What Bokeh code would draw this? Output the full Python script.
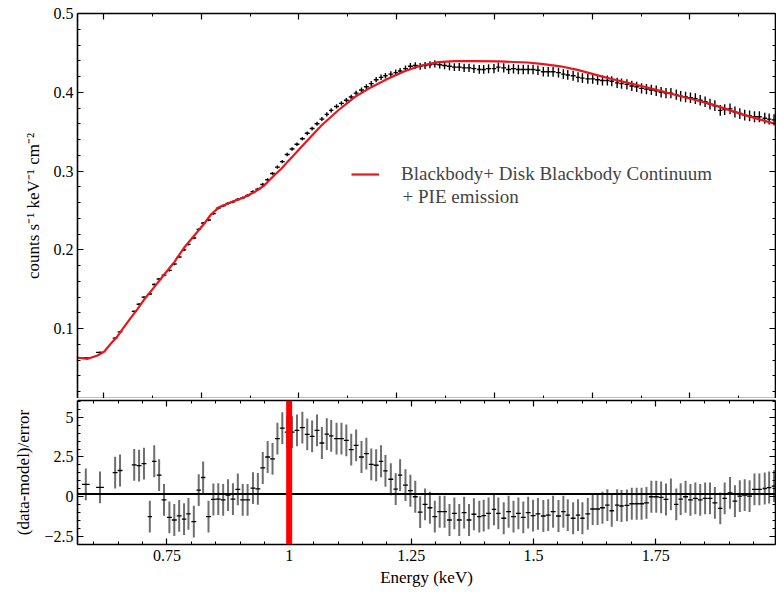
import numpy as np
from bokeh.plotting import figure
from bokeh.models import (Range1d, LinearAxis, FixedTicker, Span, Legend, LegendItem,
                          Label, CustomJSTickFormatter, ColumnDataSource)
from bokeh.layouts import column
from bokeh.embed import file_html
from bokeh.resources import INLINE

# ---------------- data ----------------
energy = [0.584, 0.613, 0.644, 0.654, 0.683, 0.693, 0.703, 0.715, 0.724, 0.734,
          0.744, 0.755, 0.765, 0.775, 0.785, 0.794, 0.805, 0.815, 0.824, 0.835,
          0.845, 0.855, 0.865, 0.875, 0.885, 0.895, 0.905, 0.915, 0.926, 0.936,
          0.946, 0.956, 0.966, 0.976, 0.986, 0.996, 1.006, 1.016, 1.027, 1.037,
          1.047, 1.057, 1.067, 1.077, 1.086, 1.097, 1.107, 1.117, 1.127, 1.137,
          1.148, 1.158, 1.168, 1.178, 1.188, 1.197, 1.208, 1.218, 1.227, 1.238,
          1.248, 1.258, 1.268, 1.278, 1.288, 1.298, 1.308, 1.318, 1.328, 1.338,
          1.348, 1.358, 1.368, 1.378, 1.389, 1.398, 1.408, 1.419, 1.428, 1.439,
          1.449, 1.459, 1.469, 1.479, 1.489, 1.499, 1.509, 1.520, 1.530, 1.540,
          1.551, 1.561, 1.570, 1.581, 1.591, 1.600, 1.611, 1.621, 1.631, 1.641,
          1.651, 1.660, 1.671, 1.680, 1.691, 1.701, 1.711, 1.721, 1.731, 1.741,
          1.751, 1.761, 1.771, 1.781, 1.792, 1.801, 1.811, 1.821, 1.831, 1.841,
          1.851, 1.861, 1.871, 1.882, 1.891, 1.902, 1.912, 1.922, 1.932, 1.942,
          1.952, 1.962, 1.973, 1.982, 1.992]

flux = [0.063, 0.070, 0.088, 0.096, 0.122, 0.131, 0.140, 0.144, 0.156, 0.163,
        0.168, 0.174, 0.182, 0.191, 0.200, 0.207, 0.215, 0.226, 0.234, 0.238,
        0.246, 0.253, 0.256, 0.259, 0.261, 0.264, 0.266, 0.269, 0.274, 0.277,
        0.283, 0.289, 0.297, 0.305, 0.312, 0.321, 0.328, 0.334, 0.341, 0.348,
        0.354, 0.360, 0.366, 0.372, 0.377, 0.382, 0.386, 0.390, 0.394, 0.399,
        0.403, 0.407, 0.411, 0.416, 0.419, 0.421, 0.423, 0.425, 0.427, 0.430,
        0.433, 0.434, 0.433, 0.434, 0.435, 0.436, 0.435, 0.434, 0.433, 0.432,
        0.432, 0.431, 0.431, 0.430, 0.429, 0.429, 0.430, 0.430, 0.432, 0.431,
        0.429, 0.430, 0.429, 0.429, 0.429, 0.429, 0.428, 0.426, 0.426, 0.426,
        0.425, 0.423, 0.422, 0.421, 0.419, 0.418, 0.417, 0.417, 0.416, 0.415,
        0.415, 0.414, 0.412, 0.411, 0.410, 0.408, 0.407, 0.405, 0.404, 0.403,
        0.402, 0.400, 0.399, 0.399, 0.397, 0.395, 0.394, 0.393, 0.392, 0.390,
        0.388, 0.385, 0.383, 0.377, 0.378, 0.379, 0.375, 0.373, 0.371, 0.370,
        0.369, 0.369, 0.367, 0.366, 0.365]

flux_err = [0.0010, 0.0010, 0.0011, 0.0011, 0.0012, 0.0012, 0.0012, 0.0012, 0.0013, 0.0013,
            0.0013, 0.0013, 0.0014, 0.0014, 0.0014, 0.0014, 0.0015, 0.0015, 0.0015, 0.0015,
            0.0016, 0.0016, 0.0016, 0.0017, 0.0017, 0.0017, 0.0018, 0.0018, 0.0018, 0.0019,
            0.0019, 0.0020, 0.0020, 0.0021, 0.0021, 0.0022, 0.0022, 0.0023, 0.0023, 0.0024,
            0.0024, 0.0025, 0.0025, 0.0026, 0.0026, 0.0027, 0.0027, 0.0028, 0.0029, 0.0030,
            0.0031, 0.0032, 0.0033, 0.0034, 0.0035, 0.0036, 0.0037, 0.0038, 0.0039, 0.0040,
            0.0041, 0.0042, 0.0043, 0.0044, 0.0045, 0.0046, 0.0047, 0.0048, 0.0049, 0.0050,
            0.0051, 0.0052, 0.0053, 0.0054, 0.0055, 0.0056, 0.0057, 0.0058, 0.0058, 0.0059,
            0.0059, 0.0060, 0.0060, 0.0060, 0.0061, 0.0061, 0.0061, 0.0061, 0.0062, 0.0062,
            0.0062, 0.0062, 0.0062, 0.0063, 0.0063, 0.0063, 0.0063, 0.0063, 0.0064, 0.0064,
            0.0064, 0.0064, 0.0064, 0.0064, 0.0065, 0.0065, 0.0065, 0.0065, 0.0065, 0.0065,
            0.0066, 0.0066, 0.0066, 0.0066, 0.0066, 0.0067, 0.0067, 0.0067, 0.0067, 0.0067,
            0.0068, 0.0068, 0.0068, 0.0068, 0.0068, 0.0069, 0.0069, 0.0069, 0.0069, 0.0069,
            0.0070, 0.0070, 0.0070, 0.0070, 0.0070]

residual = [0.78, 0.59, 1.52, 1.65, 2.00, 1.96, 2.08, -1.25, 2.23, 1.36,
            -0.20, -1.29, -1.46, -1.20, -1.40, -1.08, -1.56, 0.42, 1.21, -1.25,
            -0.17, -0.15, -0.20, 0.10, -0.15, 0.46, -0.20, -0.20, 0.54, 0.50,
            1.81, 2.50, 2.38, 3.65, 4.31, 4.06, 4.06, 4.17, 4.34, 3.92,
            3.79, 4.17, 3.38, 3.94, 3.83, 3.65, 3.65, 3.54, 2.96, 3.23,
            2.50, 2.71, 2.04, 1.98, 2.23, 1.63, 1.10, 0.48, 1.36, 0.73,
            0.38, 0.00, -0.96, -0.48, -0.69, -1.25, -0.94, -0.94, -1.46, -1.04,
            -1.46, -1.00, -1.46, -1.10, -1.25, -1.19, -1.04, -0.79, -1.04, -1.35,
            -0.94, -1.25, -1.04, -1.29, -1.00, -1.19, -1.08, -1.21, -1.15, -0.94,
            -1.21, -0.94, -1.15, -1.35, -1.15, -1.35, -1.08, -0.77, -0.77, -0.69,
            -0.52, -0.88, -0.52, -0.58, -0.54, -0.44, -0.44, -0.44, -0.38, 0.00,
            0.00, -0.04, -0.17, 0.15, -0.48, -0.15, 0.00, -0.20, -0.10, -0.20,
            -0.10, -0.10, -0.38, -0.73, -0.10, 0.25, -0.27, 0.04, 0.10, 0.04,
            0.46, 0.46, 0.52, 0.58, 0.67]

model_energy = [0.567, 0.588, 0.608, 0.622, 0.635, 0.649, 0.662, 0.676, 0.690, 0.703,
                0.724, 0.744, 0.765, 0.785, 0.806, 0.826, 0.840, 0.857, 0.881, 0.908,
                0.932, 0.949, 0.970, 0.984, 0.997, 1.031, 1.066, 1.100, 1.134, 1.168,
                1.202, 1.236, 1.270, 1.305, 1.339, 1.379, 1.430, 1.488, 1.520, 1.555,
                1.590, 1.624, 1.658, 1.693, 1.727, 1.761, 1.795, 1.829, 1.863, 1.898,
                1.932, 1.966, 1.995]
model_flux = [0.0631, 0.0618, 0.0660, 0.0711, 0.0808, 0.0905, 0.1019, 0.1138, 0.1252, 0.1367,
              0.1527, 0.1684, 0.1844, 0.2027, 0.2183, 0.2331, 0.2449, 0.2542, 0.2605, 0.2669,
              0.2745, 0.2817, 0.2950, 0.3030, 0.3120, 0.3346, 0.3579, 0.3769, 0.3938, 0.4065,
              0.4171, 0.4268, 0.4340, 0.4382, 0.4395, 0.4396, 0.4392, 0.4378, 0.4358, 0.4330,
              0.4285, 0.4228, 0.4172, 0.4120, 0.4070, 0.4015, 0.3960, 0.3905, 0.3850, 0.3780,
              0.3710, 0.3650, 0.3600]

line_energy = [1.0]           # marked line energy (keV)
model_label = "Blackbody+ Disk Blackbody Continuum"
model_label2 = "+ PIE emission"
flux_ticks = [0.1, 0.2, 0.3, 0.4, 0.5]
resid_ticks = [-2.5, 0, 2.5, 5]
energy_ticks = [0.75, 1, 1.25, 1.5, 1.75]

assert len(energy) == len(flux) == len(flux_err) == len(residual)
assert len(model_energy) == len(model_flux)

FONT = "Liberation Serif"
RED = "#e8161c"

E = np.array(energy)
gaps = np.diff(E)
left = np.concatenate([[gaps[0]], gaps])
right = np.concatenate([gaps, [gaps[-1]]])
hw = np.minimum(np.minimum(left, right) / 2.0, 0.008)
F = np.array(flux)
FE = np.array(flux_err)
R = np.array(residual)

src = ColumnDataSource(dict(e=E, x0=E - hw, x1=E + hw, f=F, flo=F - FE, fhi=F + FE,
                            r=R, rlo=R - 1.0, rhi=R + 1.0))

XR = (0.567, 1.995)


def style_axis(ax, ticks, minor, labels=True, label=None, standoff=5, label_standoff=6):
    ax.ticker = FixedTicker(ticks=ticks, minor_ticks=minor)
    ax.axis_line_color = "black"
    ax.axis_line_width = 1.6
    ax.major_tick_in = 6
    ax.major_tick_out = 0
    ax.minor_tick_in = 3
    ax.minor_tick_out = 0
    ax.major_tick_line_color = "black"
    ax.minor_tick_line_color = "black"
    ax.major_tick_line_width = 1.2
    ax.minor_tick_line_width = 1
    if labels:
        ax.formatter = CustomJSTickFormatter(code="return String(tick).replace('-', '\u2212');")
        ax.major_label_text_font = FONT
        ax.major_label_text_font_size = "16px"
        ax.major_label_text_color = "black"
        ax.major_label_standoff = standoff
    else:
        ax.formatter = CustomJSTickFormatter(code="return '';")
        ax.major_label_text_font_size = "0px"
        ax.major_label_standoff = 0
    if label is not None:
        ax.axis_label = label
        ax.axis_label_text_font = FONT
        ax.axis_label_text_font_size = "17px"
        ax.axis_label_text_font_style = "normal"
        ax.axis_label_text_color = "black"
        ax.axis_label_standoff = label_standoff


# ---------------- top panel ----------------
p1 = figure(width=776, height=398, x_range=Range1d(*XR), y_range=Range1d(0.0114, 0.5),
            output_backend="svg", toolbar_location=None,
            x_axis_location=None, y_axis_location=None,
            min_border_left=77, min_border_right=1, min_border_top=13, min_border_bottom=0)
p1.xgrid.visible = False
p1.ygrid.visible = False
p1.outline_line_color = None
p1.background_fill_color = "white"

top_x_major = [0.62, 0.82, 1.02, 1.22, 1.42, 1.62, 1.82]
top_x_minor = [0.72, 0.92, 1.12, 1.32, 1.52, 1.72, 1.92]
y_minor = [round(v, 2) for v in np.arange(0.02, 0.5, 0.02)]

axl = LinearAxis()
style_axis(axl, flux_ticks, y_minor, labels=True,
           label="counts s\u207b\u00b9 keV\u207b\u00b9 cm\u207b\u00b2", standoff=4, label_standoff=8)
p1.add_layout(axl, "left")
axr = LinearAxis()
style_axis(axr, flux_ticks, y_minor, labels=False)
p1.add_layout(axr, "right")
axt = LinearAxis()
style_axis(axt, top_x_major, top_x_minor, labels=False)
p1.add_layout(axt, "above")
axb = LinearAxis()
style_axis(axb, top_x_major, top_x_minor, labels=False)
p1.add_layout(axb, "below")

p1.segment("x0", "f", "x1", "f", source=src, line_color="black", line_width=1.4)
p1.segment("e", "flo", "e", "fhi", source=src, line_color="black", line_width=1.4)
model_r = p1.line(model_energy, model_flux, line_color=RED, line_width=2.2)

legend = Legend(items=[LegendItem(label=model_label, renderers=[model_r])],
                location=(274, 213), padding=0, margin=0, spacing=0,
                glyph_width=28, glyph_height=16, label_standoff=22,
                label_text_font=FONT, label_text_font_size="19px",
                border_line_color=None, background_fill_alpha=0)
p1.add_layout(legend)
p1.add_layout(Label(x=1.232, y=0.268, text=model_label2, text_font=FONT,
                    text_font_size="19px", text_baseline="middle", text_align="left"))

# ---------------- residual panel ----------------
p2 = figure(width=776, height=194, x_range=p1.x_range, y_range=Range1d(-3.0, 6.05),
            output_backend="svg", toolbar_location=None,
            x_axis_location=None, y_axis_location=None,
            min_border_left=77, min_border_right=1, min_border_top=2, min_border_bottom=48)
p2.xgrid.visible = False
p2.ygrid.visible = False
p2.outline_line_color = None

x_minor = [round(v, 2) for v in np.arange(0.6, 2.0, 0.05)]
r_minor = [round(v, 1) for v in np.arange(-3.0, 6.01, 0.5)]

bl = LinearAxis()
style_axis(bl, resid_ticks, r_minor, labels=True, label="(data-model)/error",
           standoff=4, label_standoff=8)
p2.add_layout(bl, "left")
br = LinearAxis()
style_axis(br, resid_ticks, r_minor, labels=False)
p2.add_layout(br, "right")
bt = LinearAxis()
style_axis(bt, energy_ticks, x_minor, labels=False)
p2.add_layout(bt, "above")
bb = LinearAxis()
style_axis(bb, energy_ticks, x_minor, labels=True, label="Energy (keV)", standoff=5,
           label_standoff=4)
p2.add_layout(bb, "below")

p2.segment("e", "rlo", "e", "rhi", source=src, line_color="#6e6e6e", line_width=2)
p2.segment("x0", "r", "x1", "r", source=src, line_color="black", line_width=1.3)
p2.add_layout(Span(location=0.18, dimension="width", line_color="black", line_width=2))
for le in line_energy:
    p2.add_layout(Span(location=le, dimension="height", line_color="#ff0000", line_width=6))

layout = column(p1, p2, spacing=0)
open("out.html", "w").write(file_html(layout, INLINE))
